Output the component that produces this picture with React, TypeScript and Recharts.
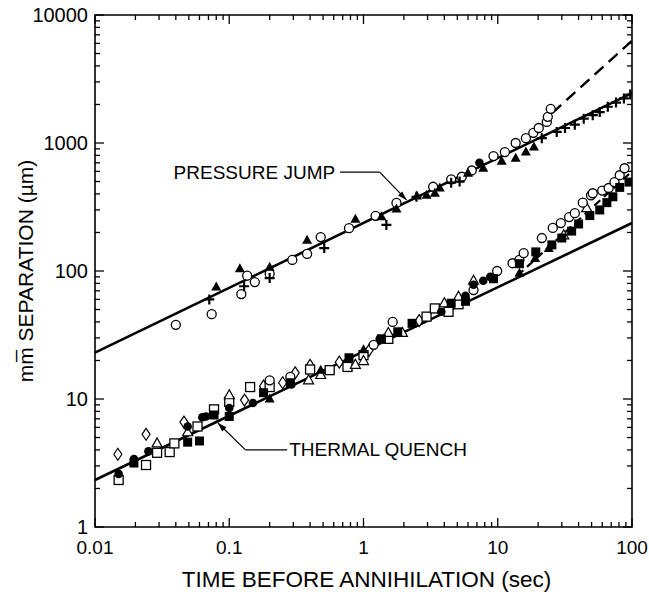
import {
  ReferenceArea,
  ReferenceDot,
  ReferenceLine,
  Scatter,
  ScatterChart,
  XAxis,
  YAxis,
} from "recharts";

// values are [time (s), separation (µm)]
const pjCircles = [
  [0.04, 38], [0.074, 46], [0.123, 66], [0.136, 92], [0.155, 82], [0.2, 95], [0.295, 122],
  [0.38, 136], [0.48, 184], [0.78, 216], [1.23, 270], [1.76, 340], [3.3, 455], [4.5, 520],
  [5.4, 545], [6.4, 610], [9.3, 790], [11.3, 850], [13.6, 1000], [16.2, 1090], [18.4, 1200],
  [20.2, 1310], [23.2, 1460], [23.6, 1600], [24.8, 1850],
];
const pjTriangles = [
  [0.08, 75], [0.12, 104], [0.2, 107], [0.38, 174], [0.87, 254], [1.36, 265], [1.76, 305],
  [2.5, 385], [2.95, 390], [3.4, 405], [3.7, 445], [6.0, 580], [7.8, 635], [10.7, 720],
  [13.6, 760], [16.2, 850], [18.6, 930],
];
const pjPlus = [
  [0.071, 60], [0.129, 76], [0.2, 88], [0.51, 151], [1.48, 229], [2.48, 380], [4.5, 490],
  [5.2, 500], [21.3, 1090], [27.5, 1220], [31.7, 1310], [37.5, 1390], [43.7, 1550], [51, 1650],
  [57.5, 1745], [66, 1920], [76, 2070], [87, 2230], [97, 2390],
];
const pjDots = [[7.3, 700]];

const tqDiamonds = [
  [0.0148, 3.7], [0.024, 5.3], [0.046, 6.6], [0.13, 9.8], [0.18, 12.6], [0.25, 13.4],
  [0.31, 16], [0.4, 18.3], [0.66, 19.4], [1.1, 24], [2.6, 41],
];
const tqDots = [
  [0.015, 2.6], [0.0195, 3.4], [0.025, 3.9], [0.049, 6.1], [0.063, 7.2], [0.067, 7.3],
  [0.1, 8.5], [0.15, 9.3], [0.29, 13], [1.32, 29.5], [3.8, 48], [5.75, 64], [6.6, 78],
  [7.8, 84], [8.8, 90],
];
const tqSquares = [
  [0.015, 2.33], [0.024, 3.05], [0.029, 3.8], [0.036, 3.85], [0.039, 4.5], [0.058, 6.1],
  [0.077, 8.3], [0.1, 9.5], [0.143, 12.4], [0.2, 12.4], [0.4, 17], [0.56, 16.8], [0.76, 17.8],
  [1.0, 22], [1.53, 29.5], [2.95, 44], [3.4, 51], [4.3, 48], [5.1, 55],
];
const tqBoxes = [
  [0.0195, 3.16], [0.049, 4.6], [0.06, 4.7], [0.077, 7.5], [0.1, 7.3], [0.18, 11.2],
  [0.285, 13.4], [0.78, 21], [1.36, 29.5], [1.8, 33.5], [2.3, 39], [4.5, 56], [5.75, 58],
  [9.3, 87], [14.5, 114], [19.2, 141], [25.3, 160], [30, 181], [35.5, 205], [40, 233],
  [48.5, 271], [57.5, 300], [65, 342], [72, 380], [81, 450], [95, 495],
];
const tqTriangles = [
  [0.029, 4.5], [0.049, 5.5], [0.1, 10.7], [0.39, 14], [0.48, 15.4], [0.87, 18.5], [1.0, 19.8],
  [1.53, 32.8], [1.95, 32.8], [4.0, 56], [5.1, 63], [6.6, 84], [31, 190], [46, 310],
];
const tqFilledTriangles = [[0.2, 10], [0.48, 16.8], [1.0, 24.2], [14.5, 96], [19, 125], [24, 150]];
const tqCircles = [
  [0.2, 14], [0.285, 14.9], [1.19, 26.5], [1.65, 40], [6.6, 71], [9.9, 100], [12.9, 115],
  [14.5, 122], [15.6, 138], [21.3, 181], [25.7, 217], [29.5, 237], [34, 264], [37.5, 283],
  [43, 342], [49.5, 390], [51, 405], [60, 425], [67, 445], [74, 495], [81, 560], [88, 635],
];

// fitted lines (endpoints)
const pjFit = [[0.01, 23], [100, 2450]];
const pjDashed = [[25.5, 1720], [100, 6300]];
const tqFit = [[0.01, 2.33], [100, 237]];
const tqDashed = [[14, 92], [100, 600]];

// annotation leaders
const pjLeader = [[0.67, 593], [1.32, 593], [2.09, 359]];
const tqLeader = [[0.27, 4.0], [0.132, 4.0], [0.0824, 6.5]];

const xDecades = [0.01, 0.1, 1, 10, 100];
const yDecades = [1, 10, 100, 1000, 10000];
const minorSteps = [1, 2, 3, 4, 5, 6, 7, 8, 9];
const xTicks = xDecades.flatMap((d, i) => (i === xDecades.length - 1 ? [d] : minorSteps.map((m) => m * d)));
const yTicks = yDecades.flatMap((d, i) => (i === yDecades.length - 1 ? [d] : minorSteps.map((m) => m * d)));

const W = 649;
const H = 592;
const LEFT = 95;
const RIGHT = 632;
const TOP = 15;
const BOTTOM = 527;
const FONT = '"Liberation Sans", Arial, Helvetica, sans-serif';

const pts = (arr: number[][]) => arr.map(([x, y]) => ({ x, y }));
const seg = (arr: number[][]) => arr.map(([x, y]) => ({ x, y }));
const isDecade = (v: number) => Math.abs(Math.log10(v) - Math.round(Math.log10(v))) < 1e-9;

function XTick({ x, payload }: any) {
  const major = isDecade(payload.value);
  const len = major ? 9 : 5;
  return (
    <g>
      <line x1={x} x2={x} y1={BOTTOM} y2={BOTTOM - len} stroke="#000" strokeWidth={1.3} />
      <line x1={x} x2={x} y1={TOP} y2={TOP + len} stroke="#000" strokeWidth={1.3} />
      {major && (
        <text x={x} y={BOTTOM + 27} textAnchor="middle" fontSize={19} fontFamily={FONT} fill="#000">
          {String(payload.value)}
        </text>
      )}
    </g>
  );
}

function YTick({ y, payload }: any) {
  const major = isDecade(payload.value);
  const len = major ? 9 : 5;
  return (
    <g>
      <line x1={LEFT} x2={LEFT + len} y1={y} y2={y} stroke="#000" strokeWidth={1.3} />
      <line x1={RIGHT} x2={RIGHT - len} y1={y} y2={y} stroke="#000" strokeWidth={1.3} />
      {major && (
        <text x={LEFT - 7} y={y} textAnchor="end" dominantBaseline="central" fontSize={20} fontFamily={FONT} fill="#000">
          {String(payload.value)}
        </text>
      )}
    </g>
  );
}

const openCircle = ({ cx, cy }: any) => <circle cx={cx} cy={cy} r={4.5} fill="#fff" stroke="#000" strokeWidth={1.3} />;
const filledCircle = ({ cx, cy }: any) => <circle cx={cx} cy={cy} r={4.3} fill="#000" />;
const openSquare = ({ cx, cy }: any) => (
  <rect x={cx - 4.5} y={cy - 4.5} width={9} height={9} fill="#fff" stroke="#000" strokeWidth={1.3} />
);
const filledSquare = ({ cx, cy }: any) => <rect x={cx - 4.5} y={cy - 4.5} width={9} height={9} fill="#000" />;
const triPoints = (cx: number, cy: number) => `${cx},${cy - 5.5} ${cx - 5},${cy + 3.5} ${cx + 5},${cy + 3.5}`;
const filledTriangle = ({ cx, cy }: any) => <polygon points={triPoints(cx, cy)} fill="#000" />;
const openTriangle = ({ cx, cy }: any) => (
  <polygon points={triPoints(cx, cy)} fill="#fff" stroke="#000" strokeWidth={1.2} />
);
const plusMark = ({ cx, cy }: any) => (
  <path d={`M${cx - 5},${cy}H${cx + 5}M${cx},${cy - 5}V${cy + 5}`} stroke="#000" strokeWidth={2.2} />
);
const diamond = ({ cx, cy }: any) => (
  <polygon
    points={`${cx},${cy - 6} ${cx + 4},${cy} ${cx},${cy + 6} ${cx - 4},${cy}`}
    fill="#fff"
    stroke="#000"
    strokeWidth={1.2}
  />
);

const arrowHead = (angle: number) => ({ cx, cy }: any) => (
  <polygon points="0,0 -9,-3 -9,3" transform={`translate(${cx},${cy}) rotate(${angle})`} fill="#000" />
);
const textMark = (text: string, anchor: "start" | "end", dx: number) => ({ cx, cy }: any) => (
  <text x={cx + dx} y={cy} textAnchor={anchor} dominantBaseline="central" fontSize={19} fontFamily={FONT} fill="#000">
    {text}
  </text>
);

function XTitle({ viewBox }: any) {
  return (
    <text x={viewBox.x + viewBox.width / 2 + 3} y={viewBox.y + 60} textAnchor="middle" fontSize={22.5} fontFamily={FONT} fill="#000">
      TIME BEFORE ANNIHILATION (sec)
    </text>
  );
}

function YTitle({ viewBox }: any) {
  return (
    <text
      transform={`translate(25, ${viewBox.y + viewBox.height / 2}) rotate(-90)`}
      textAnchor="middle"
      dominantBaseline="central"
      fontSize={21}
      fontFamily={FONT}
      fill="#000"
    >
      {"mm\u0305 SEPARATION (\u00b5m)"}
    </text>
  );
}

export default function App() {
  return (
    <div style={{ position: "absolute", left: 0, top: 0, background: "#fff" }}>
      <ScatterChart width={W} height={H} margin={{ top: TOP, right: W - RIGHT, bottom: 0, left: 0 }}>
        <XAxis
          type="number"
          dataKey="x"
          scale="log"
          domain={[0.01, 100]}
          allowDataOverflow
          ticks={xTicks}
          interval={0}
          tick={<XTick />}
          tickLine={false}
          tickSize={0}
          tickMargin={0}
          axisLine={false}
          height={H - BOTTOM}
          label={{ content: XTitle }}
        />
        <YAxis
          type="number"
          dataKey="y"
          scale="log"
          domain={[1, 10000]}
          allowDataOverflow
          ticks={yTicks}
          interval={0}
          tick={<YTick />}
          tickLine={false}
          tickSize={0}
          tickMargin={0}
          axisLine={false}
          width={LEFT}
          label={{ content: YTitle }}
        />
        <ReferenceArea x1={0.01} x2={100} y1={1} y2={10000} fill="none" stroke="#000" strokeWidth={1.6} />

        <ReferenceLine segment={seg(pjFit)} stroke="#000" strokeWidth={2.6} />
        <ReferenceLine segment={seg(pjDashed)} stroke="#000" strokeWidth={2.4} strokeDasharray="12 7" />
        <ReferenceLine segment={seg(tqFit)} stroke="#000" strokeWidth={2.6} />
        <ReferenceLine segment={seg(tqDashed)} stroke="#000" strokeWidth={2.2} strokeDasharray="8 5" />

        <ReferenceLine segment={seg(pjLeader.slice(0, 2))} stroke="#000" strokeWidth={1.2} />
        <ReferenceLine segment={seg(pjLeader.slice(1, 3))} stroke="#000" strokeWidth={1.2} />
        <ReferenceLine segment={seg(tqLeader.slice(0, 2))} stroke="#000" strokeWidth={1.2} />
        <ReferenceLine segment={seg(tqLeader.slice(1, 3))} stroke="#000" strokeWidth={1.2} />
        <ReferenceDot x={pjLeader[2][0]} y={pjLeader[2][1]} r={0} shape={arrowHead(46)} />
        <ReferenceDot x={tqLeader[2][0]} y={tqLeader[2][1]} r={0} shape={arrowHead(225)} />
        <ReferenceDot x={pjLeader[0][0]} y={pjLeader[0][1]} r={0} shape={textMark("PRESSURE JUMP", "end", -5)} />
        <ReferenceDot x={tqLeader[0][0]} y={tqLeader[0][1]} r={0} shape={textMark("THERMAL QUENCH", "start", 2)} />

        <Scatter data={pts(pjCircles)} shape={openCircle} isAnimationActive={false} />
        <Scatter data={pts(pjTriangles)} shape={filledTriangle} isAnimationActive={false} />
        <Scatter data={pts(pjPlus)} shape={plusMark} isAnimationActive={false} />
        <Scatter data={pts(pjDots)} shape={filledCircle} isAnimationActive={false} />

        <Scatter data={pts(tqDiamonds)} shape={diamond} isAnimationActive={false} />
        <Scatter data={pts(tqSquares)} shape={openSquare} isAnimationActive={false} />
        <Scatter data={pts(tqTriangles)} shape={openTriangle} isAnimationActive={false} />
        <Scatter data={pts(tqCircles)} shape={openCircle} isAnimationActive={false} />
        <Scatter data={pts(tqBoxes)} shape={filledSquare} isAnimationActive={false} />
        <Scatter data={pts(tqDots)} shape={filledCircle} isAnimationActive={false} />
        <Scatter data={pts(tqFilledTriangles)} shape={filledTriangle} isAnimationActive={false} />
      </ScatterChart>
    </div>
  );
}
